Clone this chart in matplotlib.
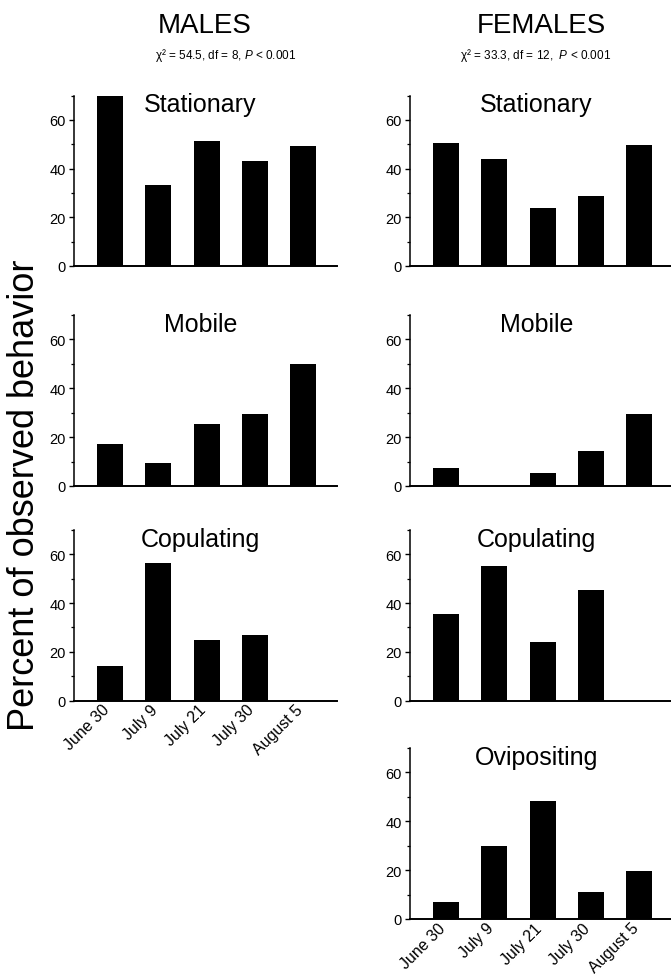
import matplotlib
matplotlib.use("Agg")
import matplotlib.pyplot as plt
from matplotlib.ticker import MultipleLocator

plt.rcParams['font.family'] = ['Liberation Sans', 'DejaVu Sans']
plt.rcParams['mathtext.fontset'] = 'custom'
plt.rcParams['mathtext.rm'] = 'Liberation Sans'
plt.rcParams['mathtext.it'] = 'Liberation Sans:italic'

dates = ["June 30", "July 9", "July 21", "July 30", "August 5"]

males_stationary = [70.4, 33.4, 51.2, 43.3, 49.2]
males_mobile = [17.0, 9.4, 25.2, 29.6, 50.1]
males_copulating = [14.1, 56.6, 24.8, 26.8, 0]

females_stationary = [50.4, 43.8, 24.0, 28.9, 49.6]
females_mobile = [7.4, 0, 5.2, 14.3, 29.6]
females_copulating = [35.6, 55.4, 23.9, 45.5, 0]
females_ovipositing = [6.8, 29.7, 48.4, 11.0, 19.6]

male_stats = r"χ² = 54.5, df = 8, $P$ < 0.001"
female_stats = r"χ² = 33.3, df = 12,  $P$ < 0.001"

W, H = 671, 978
fig = plt.figure(figsize=(W / 100, H / 100), dpi=100)

col_left = {"M": 74, "F": 410}
ax_w = 263
rows = [(96.5, 267), (316, 487), (531, 701.5), (749, 920)]


def make_ax(col, row):
    top, bot = rows[row]
    left = col_left[col]
    ax = fig.add_axes([left / W, 1 - bot / H, ax_w / W, (bot - top) / H])
    return ax


def draw(ax, vals, title, show_xlabels):
    x = list(range(len(vals)))
    ax.bar(x, vals, width=0.54, color="black")
    ax.set_xlim(-0.75, 4.7)
    ax.set_ylim(0, 70)
    ax.yaxis.set_major_locator(MultipleLocator(20))
    ax.yaxis.set_minor_locator(MultipleLocator(10))
    ax.spines["top"].set_visible(False)
    ax.spines["right"].set_visible(False)
    ax.spines["left"].set_linewidth(1.1)
    ax.spines["bottom"].set_linewidth(1.4)
    ax.tick_params(axis="y", which="major", direction="out", length=3.6,
                   width=1.0, labelsize=10.5, pad=2.5)
    ax.tick_params(axis="y", which="minor", direction="out", length=2.0,
                   width=0.9)
    ax.set_xticks(x)
    if show_xlabels:
        ax.set_xticklabels(dates, rotation=45, ha="right", va="baseline",
                           rotation_mode="anchor", fontsize=11.5)
        ax.tick_params(axis="x", length=0, pad=7)
    else:
        ax.set_xticklabels([])
        ax.tick_params(axis="x", length=0)
    ax.text(0.48, 1.02, title, transform=ax.transAxes, ha="center",
            va="top", fontsize=18)


draw(make_ax("M", 0), males_stationary, "Stationary", False)
draw(make_ax("M", 1), males_mobile, "Mobile", False)
draw(make_ax("M", 2), males_copulating, "Copulating", True)

draw(make_ax("F", 0), females_stationary, "Stationary", False)
draw(make_ax("F", 1), females_mobile, "Mobile", False)
draw(make_ax("F", 2), females_copulating, "Copulating", False)
draw(make_ax("F", 3), females_ovipositing, "Ovipositing", True)

fig.text(205 / W, 1 - 26 / H, "MALES", ha="center", va="center", fontsize=20)
fig.text(226 / W, 1 - 56 / H, male_stats, ha="center", va="center", fontsize=8.5)
fig.text(541 / W, 1 - 26 / H, "FEMALES", ha="center", va="center", fontsize=20)
fig.text(536 / W, 1 - 56 / H, female_stats, ha="center", va="center", fontsize=8.5)

fig.text(25 / W, 1 - 495 / H, "Percent of observed behavior", rotation=90,
         ha="center", va="center", fontsize=26)

fig.savefig("out.png", dpi=100)
